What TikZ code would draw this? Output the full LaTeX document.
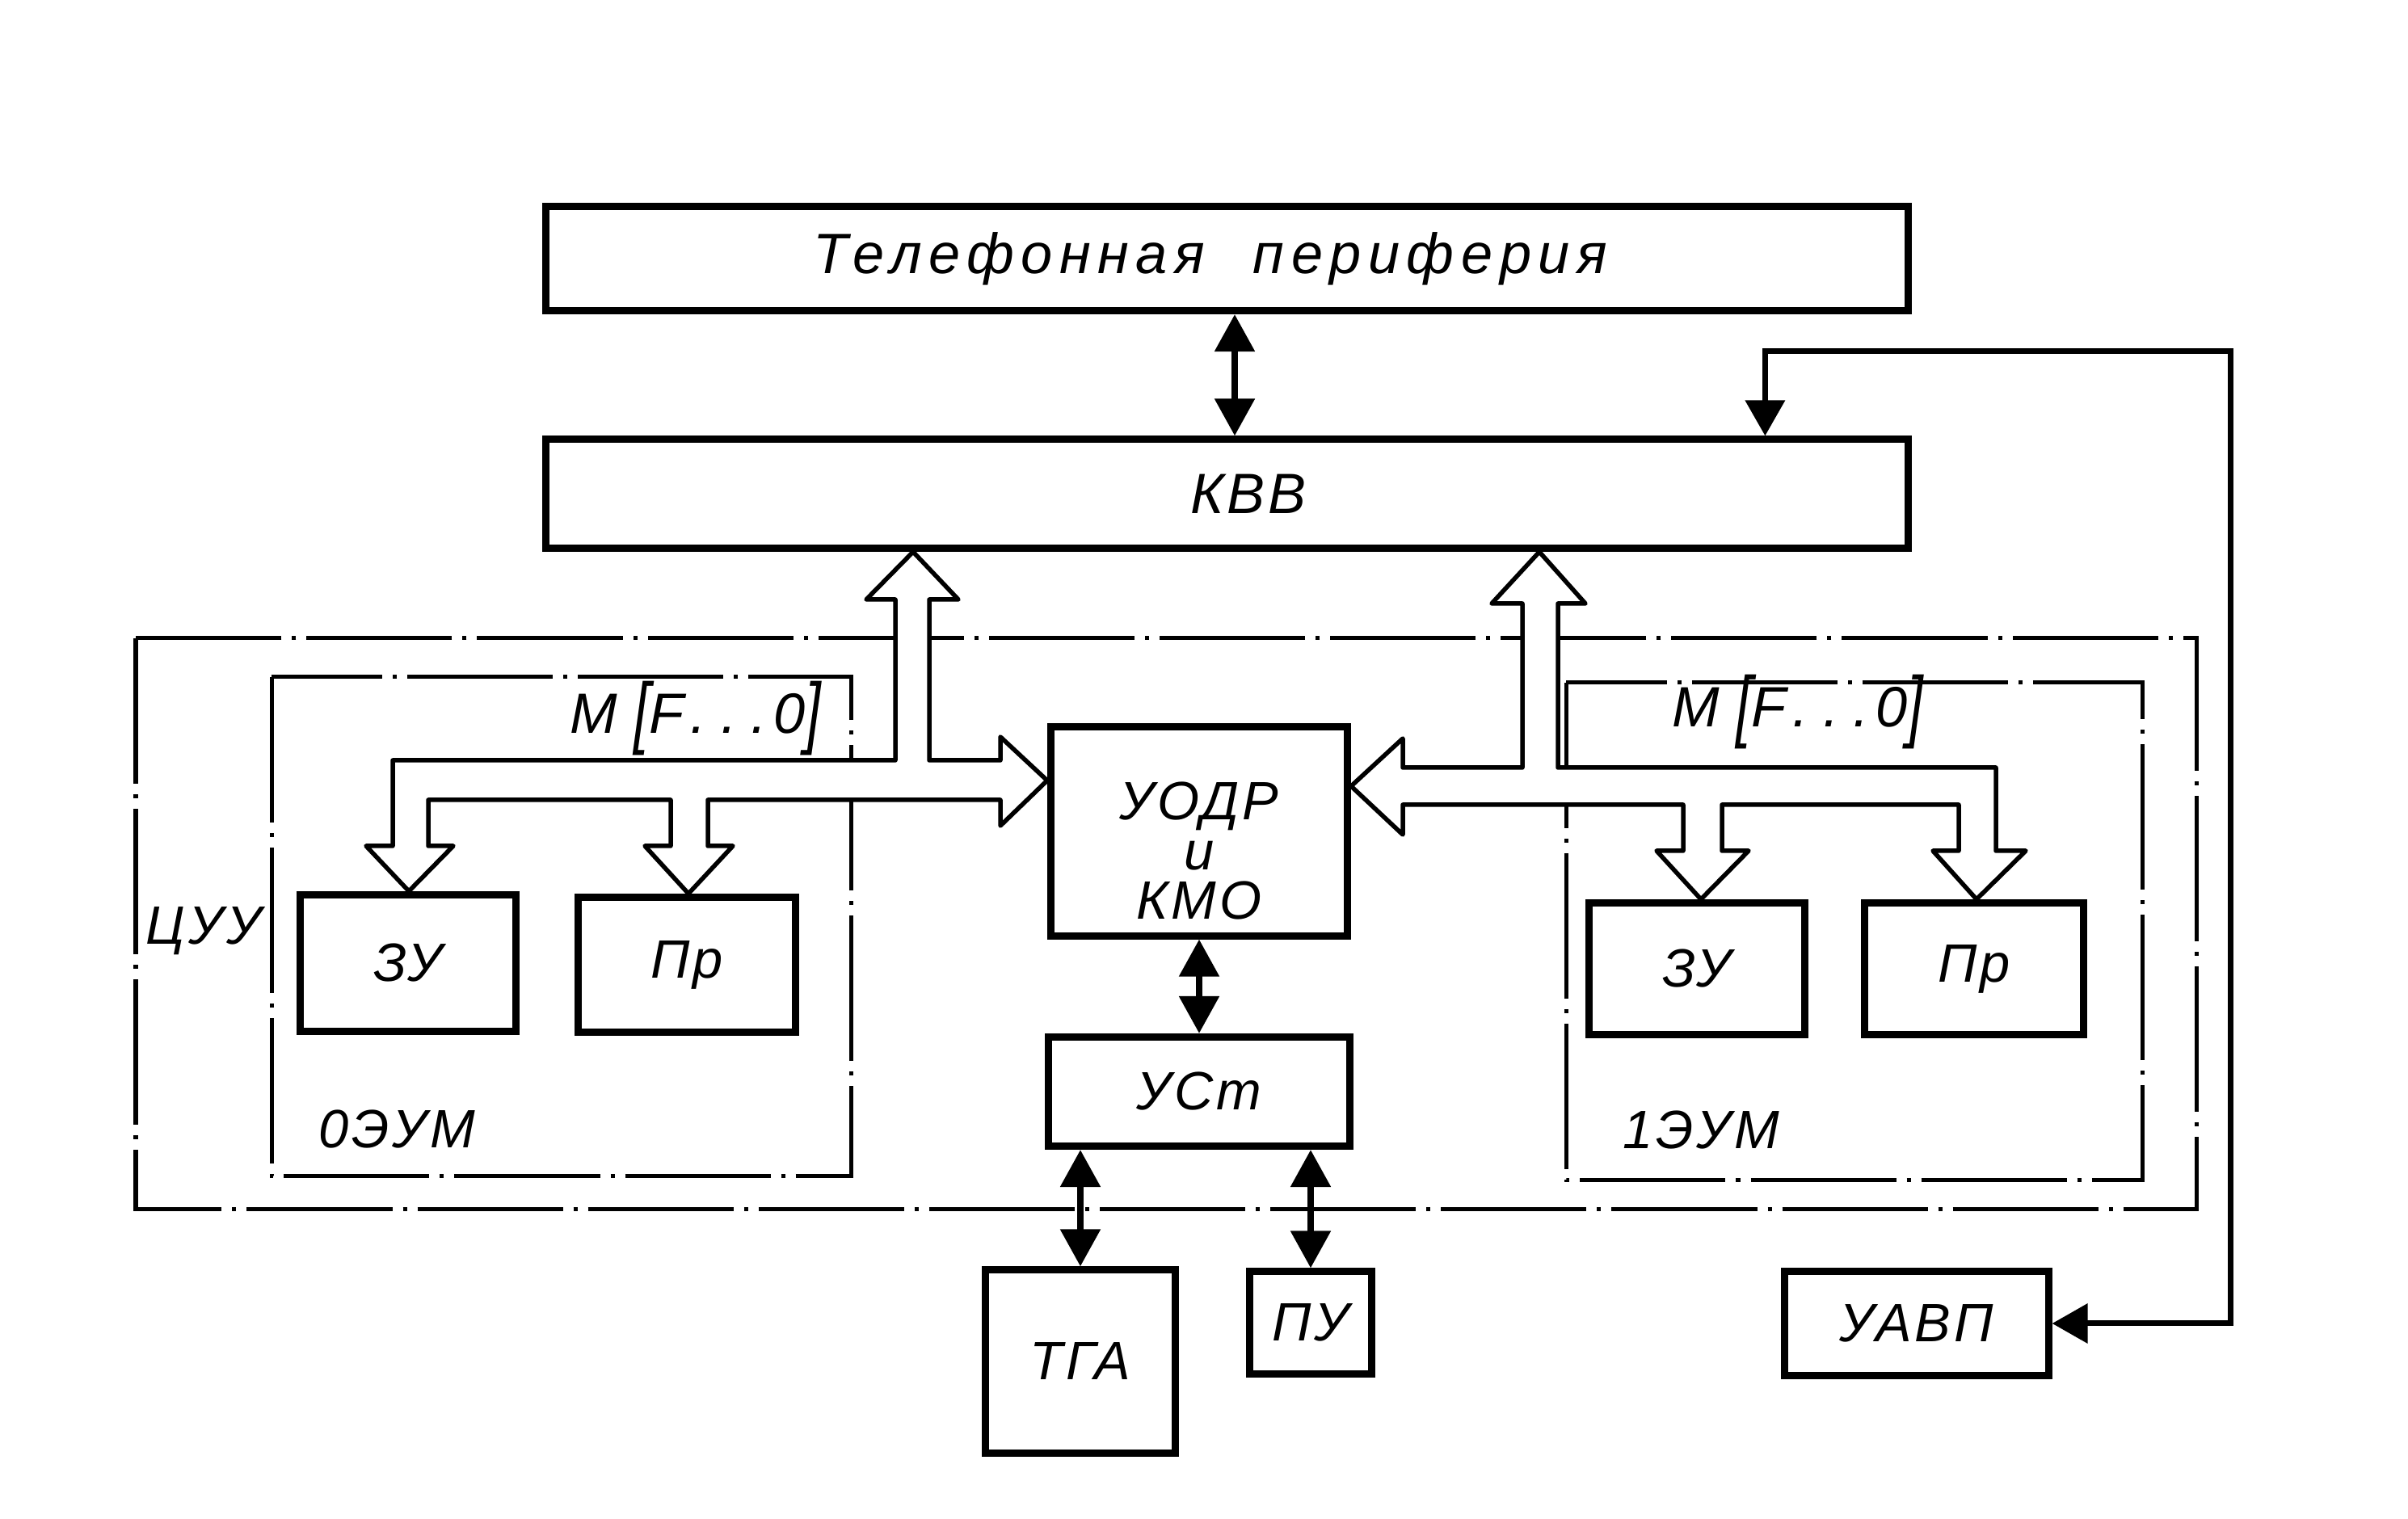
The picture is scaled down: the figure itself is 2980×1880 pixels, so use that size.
\documentclass[tikz,border=0pt]{standalone}
\usepackage{fontspec}
\usepackage{graphicx}
\setmainfont{Liberation Sans}
\newfontfamily\gost[LetterSpace=6]{Liberation Sans}
\newfontfamily\gostwide[LetterSpace=12]{Liberation Sans}
\usetikzlibrary{arrows.meta}
\newcommand{\tallbr}[1]{\raisebox{-0.07cm}{\scalebox{1}[1.4]{#1}}}

\begin{document}
\begin{tikzpicture}[x=0.01cm, y=-0.01cm,
    blk/.style={draw=black, line width=0.09cm, align=center,
        font=\gost\itshape\fontsize{19pt}{17.6pt}\selectfont},
    lbl/.style={font=\gost\itshape\fontsize{19pt}{19pt}\selectfont},
    bus/.style={draw=black, fill=white, line width=0.055cm, line join=round},
    zone/.style={draw=black, line width=0.05cm,
        dash pattern=on 1.8cm off 0.13cm on 0.05cm off 0.13cm},
    dblarr/.style={line width=0.085cm, <->, >={Triangle[length=0.46cm,width=0.48cm]}},
    fb/.style={line width=0.07cm, <->, >={Triangle[length=0.44cm,width=0.48cm]}}]
                \tikzstyle{every node}+=[inner sep=0pt]
                \fill [white] (0,0) rectangle (2980,1880);
                \useasboundingbox (0,0) rectangle (2980,1880);
                % dash-dot frames
                \draw [zone] (168,790) rectangle (2718,1497);
                \draw [zone] (336,838) rectangle (1053,1456);
                \draw [zone] (1938,845) rectangle (2651,1461);
                \node [lbl] (cuu) at (252,1152) {ЦУУ};
                \node [lbl] (evm0) at (491,1398) {0ЭУМ};
                \node [lbl] (evm1) at (2105,1399) {1ЭУМ};
                \node [lbl, font=\gost\itshape\fontsize{20pt}{20pt}\selectfont] (mf0) at (861,889)
                    {M\hspace{0.2cm}\tallbr{[}F\hspace{0.08cm}.\hspace{0.18cm}.\hspace{0.18cm}.\hspace{0.08cm}0\tallbr{]}};
                \node [lbl, font=\gost\itshape\fontsize{20pt}{20pt}\selectfont] (mf1) at (2225,881)
                    {M\hspace{0.2cm}\tallbr{[}F\hspace{0.08cm}.\hspace{0.18cm}.\hspace{0.18cm}.\hspace{0.08cm}0\tallbr{]}};
                % blocks
                \node [blk, minimum width=16.85cm, minimum height=1.29cm,
                    font=\gostwide\itshape\fontsize{20pt}{20pt}\selectfont] (tel) at (1518,320)
                    {\hspace*{-0.4cm}Телефонная\hspace{0.6cm}периферия};
                \node [blk, minimum width=16.85cm, minimum height=1.34cm,
                    font=\gost\itshape\fontsize{20pt}{20pt}\selectfont] (kvv) at (1518,611)
                    {\hspace*{0.54cm}КВВ};
                \node [blk, minimum width=3.66cm, minimum height=2.58cm,
                    label={[yshift=-0.24cm, align=center, font=\gost\itshape\fontsize{19pt}{17.6pt}\selectfont]center:УОДР\\и\\КМО}]
                    (uodr) at (1484,1029) {};
                \node [blk, minimum width=3.73cm, minimum height=1.35cm] (ust) at (1484,1351) {УСт};
                \node [blk, minimum width=2.34cm, minimum height=2.26cm] (tga) at (1337,1685) {ТГА};
                \node [blk, minimum width=1.50cm, minimum height=1.26cm] (pu) at (1622,1637) {ПУ};
                \node [blk, minimum width=3.26cm, minimum height=1.29cm] (uavp) at (2372,1638) {УАВП};
                \node [blk, minimum width=2.67cm, minimum height=1.68cm] (zu0) at (505,1192) {ЗУ};
                \node [blk, minimum width=2.68cm, minimum height=1.66cm] (pr0) at (850,1194) {Пр};
                \node [blk, minimum width=2.67cm, minimum height=1.62cm] (zu1) at (2100,1199) {ЗУ};
                \node [blk, minimum width=2.71cm, minimum height=1.62cm] (pr1) at (2443,1199) {Пр};
                % bus of 0ЭУМ
                \draw [bus] (1130,683) -- (1186,742) -- (1150,742) -- (1150,941) -- (1238,941)
                    -- (1238,912) -- (1296,966) -- (1238,1022) -- (1238,990) -- (876,990)
                    -- (876,1047) -- (907,1047) -- (852,1106) -- (798,1047) -- (830,1047)
                    -- (830,990) -- (530,990) -- (530,1047) -- (561,1047) -- (506,1103)
                    -- (453,1047) -- (486,1047) -- (486,941) -- (1108,941) -- (1108,742)
                    -- (1072,742) -- cycle;
                % bus of 1ЭУМ
                \draw [bus] (1905,683) -- (1962,747) -- (1928,747) -- (1928,950) -- (2470,950)
                    -- (2470,1053) -- (2507,1053) -- (2446,1113) -- (2392,1053) -- (2424,1053)
                    -- (2424,996) -- (2131,996) -- (2131,1053) -- (2164,1053) -- (2105,1113)
                    -- (2050,1053) -- (2083,1053) -- (2083,996) -- (1736,996) -- (1736,1033)
                    -- (1672,973) -- (1736,914) -- (1736,950) -- (1884,950) -- (1884,747)
                    -- (1846,747) -- cycle;
                % links
                \draw [dblarr] ([xshift=0.1cm]tel.south) -- ([xshift=0.1cm]kvv.north);
                \draw [dblarr] (uodr.south) -- (ust.north);
                \draw [dblarr] (ust.south -| tga.north) -- (tga.north);
                \draw [dblarr] (ust.south -| pu.north) -- (pu.north);
                \coordinate (fbtop) at (2760,435);
                \draw [fb] ([xshift=6.66cm]kvv.north) |- (fbtop) |- (uavp.east);
            \end{tikzpicture}
\end{document}
